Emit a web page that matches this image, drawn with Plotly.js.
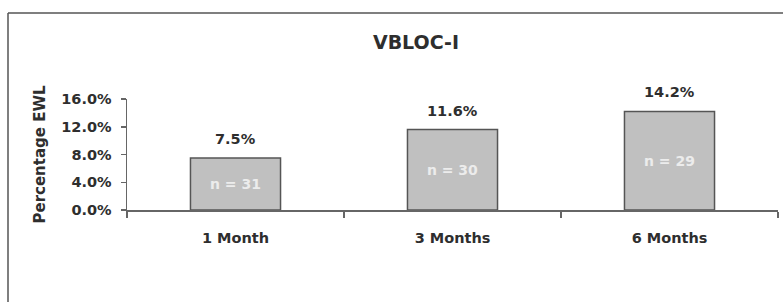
<!DOCTYPE html>
<html>
<head>
<meta charset="utf-8">
<script src="https://cdn.plot.ly/plotly-3.0.1.min.js"></script>
<style>
html,body{margin:0;padding:0;background:#fff;}
#chart{width:783px;height:302px;}
</style>
</head>
<body>
<div id="chart"></div>
<script>
const categories = ['1 Month', '3 Months', '6 Months'];
const values = [7.5, 11.6, 14.2];
const valueLabels = ['7.5%', '11.6%', '14.2%'];
const nLabels = ['n = 31', 'n = 30', 'n = 29'];
const yTickVals = [0, 4, 8, 12, 16];
const yTickText = ['0.0%', '4.0%', '8.0%', '12.0%', '16.0%'];

const FONT = 'DejaVu Sans, Arial, sans-serif';
const TXT = '#2e2e2e';

const trace = {
  type: 'bar',
  x: categories,
  y: values,
  text: nLabels,
  textposition: 'inside',
  insidetextanchor: 'middle',
  textangle: 0,
  constraintext: 'none',
  insidetextfont: {family: FONT, size: 14, color: '#ececec', weight: 'bold'},
  marker: {color: '#c0c0c0', line: {color: '#555555', width: 1.5}},
  hoverinfo: 'skip'
};

const annotations = categories.map((c, i) => ({
  x: c, y: values[i], xref: 'x', yref: 'y',
  text: valueLabels[i], showarrow: false,
  yanchor: 'bottom', yshift: 9,
  font: {family: FONT, size: 14.5, color: TXT, weight: 'bold'}
}));

const layout = {
  width: 783, height: 302,
  margin: {l: 127, r: 5, t: 99, b: 92, pad: 0},
  paper_bgcolor: '#ffffff',
  plot_bgcolor: '#ffffff',
  showlegend: false,
  bargap: 0.585,
  title: {
    text: 'VBLOC-I',
    x: 416 / 783, xanchor: 'center',
    y: (302 - 42) / 302, yanchor: 'middle',
    font: {family: FONT, size: 19, color: TXT, weight: 'bold'}
  },
  xaxis: {
    type: 'category',
    range: [-0.5, 2.5],
    showline: true, linecolor: '#666666', linewidth: 1.5,
    ticks: 'outside', tickson: 'boundaries', ticklen: 6, tickcolor: '#666666', tickwidth: 1.5,
    showgrid: false, zeroline: false,
    ticklabelstandoff: 14,
    tickfont: {family: FONT, size: 14.5, color: TXT, weight: 'bold'}
  },
  yaxis: {
    range: [0, 16],
    tickvals: yTickVals, ticktext: yTickText,
    showline: true, linecolor: '#666666', linewidth: 1.5,
    ticks: 'outside', ticklen: 5, tickcolor: '#666666', tickwidth: 1.5,
    showgrid: false, zeroline: false,
    ticklabelstandoff: 6,
    tickfont: {family: FONT, size: 14.5, color: TXT, weight: 'bold'},
    title: {
      text: 'Percentage EWL', standoff: 12,
      font: {family: FONT, size: 15, color: TXT, weight: 'bold'}
    }
  },
  annotations: annotations,
  shapes: [
    {
      type: 'line', xref: 'paper', yref: 'paper',
      x0: (8 - 127) / 651, x1: (783 - 127) / 651,
      y0: (210 - 13) / 111, y1: (210 - 13) / 111,
      line: {color: '#555555', width: 1.5}, layer: 'below'
    },
    {
      type: 'line', xref: 'paper', yref: 'paper',
      x0: (8 - 127) / 651, x1: (8 - 127) / 651,
      y0: (210 - 13) / 111, y1: -(302 - 210) / 111,
      line: {color: '#555555', width: 1.5}, layer: 'below'
    }
  ]
};

Plotly.newPlot('chart', [trace], layout, {displayModeBar: false, staticPlot: true});
</script>
</body>
</html>
